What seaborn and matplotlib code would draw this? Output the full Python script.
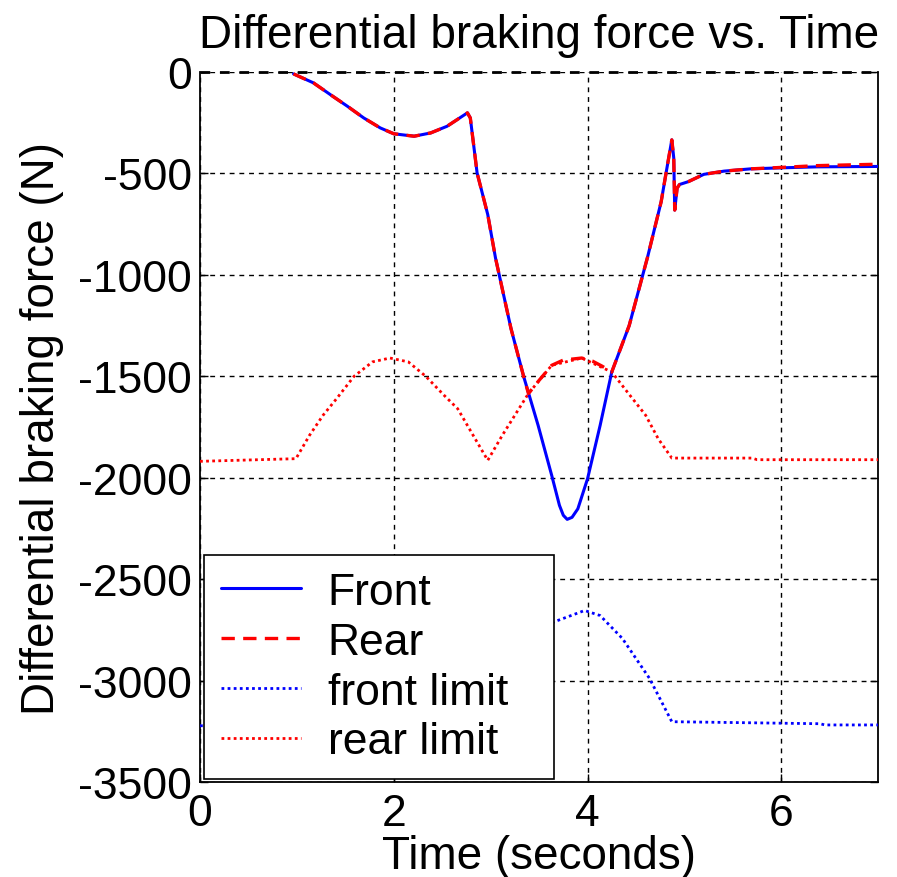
import numpy as np
import pandas as pd
import matplotlib
matplotlib.use("Agg")
import matplotlib.pyplot as plt
import seaborn as sns

# ---------------- data ----------------
front_t = [0.965, 1.17, 1.345, 1.52, 1.69, 1.86, 2.0, 2.21, 2.38, 2.55, 2.76, 2.79,
           2.86, 2.97, 3.05, 3.21, 3.34, 3.49, 3.63, 3.71, 3.75, 3.79, 3.84, 3.90, 4.0, 4.13,
           4.25, 4.43, 4.62, 4.76, 4.81, 4.85, 4.87, 4.89, 4.90, 4.925, 4.95, 5.04,
           5.20, 5.41, 5.68, 5.99, 6.37, 7.0]
front_y = [-10, -54, -112, -169, -227, -276, -305, -317, -301, -268, -202, -227,
           -498, -703, -917, -1265, -1500, -1742, -1988, -2136, -2185, -2205, -2195, -2153, -2005, -1742,
           -1479, -1250, -912, -640, -500, -390, -335, -424, -681, -572, -555, -541,
           -505, -489, -478, -473, -468, -466]

rear_t = [0.965, 1.17, 1.345, 1.52, 1.69, 1.86, 2.0, 2.21, 2.38, 2.55, 2.76, 2.79,
          2.86, 2.97, 3.05, 3.21, 3.34, 3.39, 3.50, 3.63, 3.75, 3.94, 4.05, 4.15,
          4.25, 4.43, 4.62, 4.76, 4.81, 4.85, 4.87, 4.89, 4.90, 4.925, 4.95, 5.04,
          5.20, 5.41, 5.68, 5.99, 6.37, 7.0]
rear_y = [-10, -54, -112, -169, -227, -276, -305, -317, -301, -268, -202, -227,
          -498, -703, -917, -1265, -1500, -1585, -1520, -1446, -1420, -1410, -1425, -1450,
          -1479, -1250, -912, -640, -500, -390, -335, -424, -681, -572, -555, -541,
          -505, -489, -478, -471, -462, -455]

front_limit_t = [0.0, 0.95, 1.13, 1.27, 1.41, 1.59, 1.78, 1.96, 2.15, 2.33, 2.52, 2.66,
                 2.84, 2.97, 3.12, 3.39, 3.63, 3.70, 3.97, 4.13, 4.36, 4.64, 4.87, 5.33,
                 6.40, 6.45, 7.0]
front_limit_y = [-3222, -3222, -3090, -2980, -2890, -2780, -2690, -2660, -2690, -2780, -2880, -2960,
                 -3100, -3215, -3080, -2840, -2715, -2702, -2654, -2679, -2792, -2989, -3202, -3205,
                 -3212, -3218, -3218]

rear_limit_t = [0.0, 0.99, 1.13, 1.27, 1.41, 1.59, 1.78, 1.96, 2.15, 2.33, 2.52, 2.66,
                2.84, 2.97, 3.12, 3.39, 3.63, 3.94, 4.25, 4.41, 4.60, 4.73, 4.87, 5.70,
                5.75, 7.0]
rear_limit_y = [-1919, -1906, -1791, -1692, -1610, -1500, -1429, -1410, -1429, -1500, -1594, -1660,
                -1808, -1914, -1791, -1585, -1446, -1410, -1479, -1577, -1692, -1808, -1903, -1903,
                -1911, -1911]

x_ticks = [0, 2, 4, 6]
y_ticks = [0, -500, -1000, -1500, -2000, -2500, -3000, -3500]

# ---------------- style ----------------
sns.set_style("white")
plt.rcParams['font.family'] = ['Liberation Sans', 'DejaVu Sans']
plt.rcParams['text.color'] = 'black'
plt.rcParams['axes.labelcolor'] = 'black'
plt.rcParams['xtick.color'] = 'black'
plt.rcParams['ytick.color'] = 'black'

fig = plt.figure(figsize=(8.97, 8.78), dpi=100)
ax = fig.add_axes([0.223, 0.108, 0.756, 0.809])

df_front = pd.DataFrame({"t": front_t, "y": front_y})
df_rear = pd.DataFrame({"t": rear_t, "y": rear_y})
df_fl = pd.DataFrame({"t": front_limit_t, "y": front_limit_y})
df_rl = pd.DataFrame({"t": rear_limit_t, "y": rear_limit_y})

sns.lineplot(data=df_front, x="t", y="y", ax=ax, color="#0000ff", lw=2.2,
             label="Front", estimator=None, sort=False, zorder=4)
sns.lineplot(data=df_rear, x="t", y="y", ax=ax, color="#ff0000", lw=2.4,
             label="Rear", estimator=None, sort=False, zorder=5)
ax.lines[-1].set_dashes([4, 2.5])
sns.lineplot(data=df_fl, x="t", y="y", ax=ax, color="#0000ff", lw=2.0,
             label="front limit", estimator=None, sort=False, zorder=3)
ax.lines[-1].set_dashes([1, 1.2])
sns.lineplot(data=df_rl, x="t", y="y", ax=ax, color="#ff0000", lw=2.0,
             label="rear limit", estimator=None, sort=False, zorder=3)
ax.lines[-1].set_dashes([1, 1.2])

ax.set_xlim(0, 7)
ax.set_ylim(-3500, 0)
ax.set_xticks(x_ticks)
ax.set_yticks(y_ticks)
ax.set_xticklabels([str(v) for v in x_ticks])
ax.set_yticklabels([str(v) for v in y_ticks])

ax.grid(True, color="black", linestyle=(0, (3.5, 3.5)), linewidth=1.0)
ax.set_axisbelow(True)
ax.axhline(0, color="black", linestyle=(0, (3.5, 3.5)), linewidth=2.0, clip_on=False, zorder=1)

for s in ["left", "right", "bottom"]:
    ax.spines[s].set_visible(True)
    ax.spines[s].set_color("black")
    ax.spines[s].set_linewidth(1.3)
ax.spines["top"].set_visible(False)

ax.tick_params(axis="both", direction="in", length=6, width=1, colors="black",
               labelsize=32, top=False, right=True, left=True, bottom=True, pad=6)
ax.tick_params(axis="x", pad=8)

ax.set_title("Differential braking force vs. Time", fontsize=33, pad=18, color="black")
ax.set_xlabel("Time (seconds)", fontsize=33, labelpad=0)
ax.set_ylabel("Differential braking force (N)", fontsize=33, labelpad=10)

leg = ax.legend(loc="lower left", bbox_to_anchor=(0.006, 0.004, 0.516, 0.297),
                mode="expand", borderaxespad=0,
                fontsize=32, frameon=True, fancybox=False, framealpha=1,
                edgecolor="black", handlelength=1.8, handletextpad=0.6,
                labelspacing=0.2, borderpad=0.38)
leg.get_frame().set_linewidth(1.2)
leg.set_zorder(10)

fig.savefig("out.png", dpi=100)
